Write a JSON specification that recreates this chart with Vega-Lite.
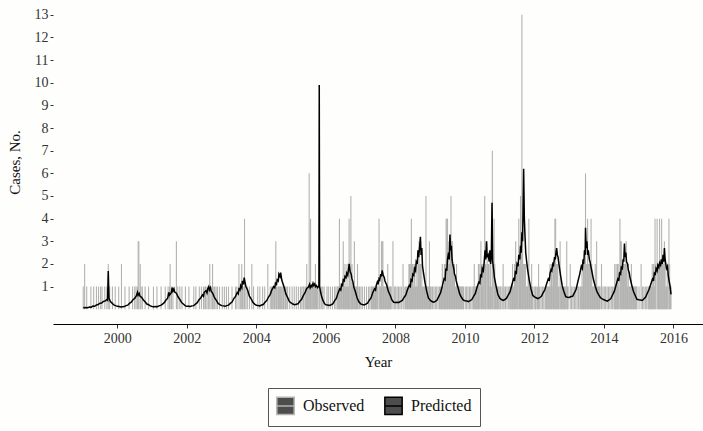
{
  "$schema": "https://vega.github.io/schema/vega-lite/v6.json",
  "width": 650,
  "height": 324,
  "autosize": {"type": "none"},
  "padding": {"left": 53, "top": 0, "right": 0, "bottom": 107},
  "background": "#fefefc",
  "config": {
    "view": {"stroke": null},
    "font": "Liberation Serif",
    "axis": {"grid": false, "labelFont": "Liberation Serif", "titleFont": "Liberation Serif", "titleFontWeight": "normal", "labelColor": "#333333", "titleColor": "#111111", "tickColor": "#333333"},
    "legend": {"labelFont": "Liberation Serif"}
  },
  "datasets": {
    "obs": [
      {"t":1999.02,"n":1},{"t":1999.06,"n":2},{"t":1999.12,"n":1},{"t":1999.24,"n":1},{"t":1999.32,"n":1},{"t":1999.40,"n":1},{"t":1999.46,"n":1},{"t":1999.52,"n":1},{"t":1999.56,"n":1},{"t":1999.64,"n":1},{"t":1999.70,"n":1},{"t":1999.74,"n":2},{"t":1999.78,"n":1},{"t":1999.86,"n":1},{"t":1999.94,"n":1},
      {"t":2000.04,"n":1},{"t":2000.12,"n":2},{"t":2000.22,"n":1},{"t":2000.34,"n":1},{"t":2000.44,"n":1},{"t":2000.50,"n":1},{"t":2000.54,"n":1},{"t":2000.58,"n":1},{"t":2000.60,"n":3},{"t":2000.62,"n":3},{"t":2000.66,"n":2},{"t":2000.68,"n":1},{"t":2000.72,"n":1},{"t":2000.80,"n":1},{"t":2000.90,"n":1},
      {"t":2001.04,"n":1},{"t":2001.14,"n":1},{"t":2001.26,"n":1},{"t":2001.38,"n":1},{"t":2001.46,"n":1},{"t":2001.50,"n":1},{"t":2001.52,"n":2},{"t":2001.56,"n":1},{"t":2001.60,"n":1},{"t":2001.70,"n":3},{"t":2001.74,"n":1},{"t":2001.80,"n":1},{"t":2001.86,"n":1},{"t":2001.96,"n":1},
      {"t":2002.06,"n":1},{"t":2002.20,"n":1},{"t":2002.26,"n":1},{"t":2002.36,"n":1},{"t":2002.42,"n":1},{"t":2002.48,"n":1},{"t":2002.52,"n":1},{"t":2002.54,"n":1},{"t":2002.58,"n":1},{"t":2002.62,"n":1},{"t":2002.66,"n":2},{"t":2002.70,"n":1},{"t":2002.74,"n":2},{"t":2002.76,"n":1},{"t":2002.80,"n":1},{"t":2002.84,"n":1},{"t":2002.88,"n":1},{"t":2002.94,"n":1},
      {"t":2003.02,"n":1},{"t":2003.08,"n":1},{"t":2003.14,"n":1},{"t":2003.20,"n":1},{"t":2003.30,"n":1},{"t":2003.40,"n":1},{"t":2003.44,"n":1},{"t":2003.50,"n":2},{"t":2003.54,"n":1},{"t":2003.58,"n":2},{"t":2003.60,"n":1},{"t":2003.64,"n":1},{"t":2003.66,"n":4},{"t":2003.70,"n":1},{"t":2003.74,"n":1},{"t":2003.80,"n":1},{"t":2003.87,"n":2},{"t":2003.92,"n":1},
      {"t":2004.04,"n":1},{"t":2004.10,"n":1},{"t":2004.18,"n":1},{"t":2004.24,"n":1},{"t":2004.33,"n":2},{"t":2004.40,"n":1},{"t":2004.44,"n":1},{"t":2004.46,"n":1},{"t":2004.50,"n":1},{"t":2004.52,"n":1},{"t":2004.56,"n":3},{"t":2004.58,"n":1},{"t":2004.60,"n":1},{"t":2004.64,"n":1},{"t":2004.66,"n":1},{"t":2004.68,"n":1},{"t":2004.70,"n":1},{"t":2004.72,"n":1},{"t":2004.76,"n":1},{"t":2004.78,"n":1},{"t":2004.80,"n":1},{"t":2004.84,"n":1},{"t":2004.86,"n":1},{"t":2004.90,"n":1},{"t":2004.96,"n":1},
      {"t":2005.03,"n":1},{"t":2005.09,"n":1},{"t":2005.15,"n":1},{"t":2005.21,"n":1},{"t":2005.27,"n":1},{"t":2005.31,"n":1},{"t":2005.35,"n":1},{"t":2005.37,"n":1},{"t":2005.41,"n":1},{"t":2005.43,"n":1},{"t":2005.45,"n":2},{"t":2005.47,"n":1},{"t":2005.49,"n":1},{"t":2005.51,"n":1},{"t":2005.52,"n":6},{"t":2005.54,"n":1},{"t":2005.56,"n":4},{"t":2005.58,"n":1},{"t":2005.61,"n":1},{"t":2005.63,"n":1},{"t":2005.65,"n":1},{"t":2005.67,"n":1},{"t":2005.70,"n":2},{"t":2005.73,"n":1},{"t":2005.75,"n":1},{"t":2005.77,"n":1},{"t":2005.81,"n":1},{"t":2005.83,"n":1},{"t":2005.87,"n":1},{"t":2005.91,"n":1},{"t":2005.95,"n":1},
      {"t":2006.03,"n":1},{"t":2006.07,"n":1},{"t":2006.13,"n":1},{"t":2006.19,"n":1},{"t":2006.25,"n":1},{"t":2006.29,"n":1},{"t":2006.33,"n":1},{"t":2006.35,"n":1},{"t":2006.37,"n":1},{"t":2006.39,"n":4},{"t":2006.41,"n":1},{"t":2006.43,"n":1},{"t":2006.45,"n":1},{"t":2006.47,"n":1},{"t":2006.50,"n":3},{"t":2006.51,"n":1},{"t":2006.53,"n":1},{"t":2006.55,"n":2},{"t":2006.57,"n":1},{"t":2006.59,"n":1},{"t":2006.61,"n":2},{"t":2006.63,"n":1},{"t":2006.65,"n":1},{"t":2006.67,"n":4},{"t":2006.69,"n":2},{"t":2006.72,"n":5},{"t":2006.73,"n":1},{"t":2006.75,"n":2},{"t":2006.77,"n":1},{"t":2006.79,"n":1},{"t":2006.82,"n":3},{"t":2006.84,"n":1},{"t":2006.86,"n":1},{"t":2006.88,"n":1},{"t":2006.91,"n":2},{"t":2006.93,"n":1},{"t":2006.97,"n":1},
      {"t":2007.01,"n":1},{"t":2007.05,"n":1},{"t":2007.11,"n":1},{"t":2007.17,"n":1},{"t":2007.23,"n":1},{"t":2007.27,"n":1},{"t":2007.31,"n":1},{"t":2007.33,"n":1},{"t":2007.35,"n":1},{"t":2007.37,"n":1},{"t":2007.39,"n":1},{"t":2007.41,"n":1},{"t":2007.43,"n":1},{"t":2007.45,"n":1},{"t":2007.47,"n":1},{"t":2007.49,"n":1},{"t":2007.53,"n":4},{"t":2007.55,"n":1},{"t":2007.57,"n":1},{"t":2007.60,"n":3},{"t":2007.62,"n":3},{"t":2007.64,"n":3},{"t":2007.66,"n":1},{"t":2007.68,"n":1},{"t":2007.70,"n":1},{"t":2007.72,"n":1},{"t":2007.74,"n":1},{"t":2007.76,"n":1},{"t":2007.78,"n":2},{"t":2007.80,"n":1},{"t":2007.82,"n":1},{"t":2007.84,"n":1},{"t":2007.86,"n":1},{"t":2007.88,"n":1},{"t":2007.93,"n":3},{"t":2007.97,"n":1},
      {"t":2008.01,"n":1},{"t":2008.05,"n":1},{"t":2008.09,"n":1},{"t":2008.13,"n":1},{"t":2008.17,"n":1},{"t":2008.22,"n":2},{"t":2008.25,"n":1},{"t":2008.29,"n":1},{"t":2008.31,"n":1},{"t":2008.33,"n":1},{"t":2008.35,"n":1},{"t":2008.37,"n":1},{"t":2008.39,"n":2},{"t":2008.41,"n":2},{"t":2008.43,"n":2},{"t":2008.45,"n":1},{"t":2008.46,"n":4},{"t":2008.48,"n":2},{"t":2008.50,"n":2},{"t":2008.52,"n":1},{"t":2008.54,"n":2},{"t":2008.56,"n":2},{"t":2008.58,"n":1},{"t":2008.60,"n":1},{"t":2008.62,"n":2},{"t":2008.64,"n":1},{"t":2008.66,"n":2},{"t":2008.68,"n":3},{"t":2008.70,"n":2},{"t":2008.72,"n":2},{"t":2008.74,"n":1},{"t":2008.76,"n":2},{"t":2008.78,"n":1},{"t":2008.80,"n":1},{"t":2008.82,"n":1},{"t":2008.84,"n":1},{"t":2008.86,"n":1},{"t":2008.88,"n":5},{"t":2008.90,"n":1},{"t":2008.92,"n":1},{"t":2008.94,"n":1},{"t":2008.96,"n":1},{"t":2008.98,"n":3},
      {"t":2009.01,"n":1},{"t":2009.03,"n":1},{"t":2009.07,"n":1},{"t":2009.11,"n":1},{"t":2009.15,"n":1},{"t":2009.19,"n":1},{"t":2009.23,"n":1},{"t":2009.27,"n":1},{"t":2009.29,"n":1},{"t":2009.31,"n":1},{"t":2009.33,"n":1},{"t":2009.35,"n":2},{"t":2009.37,"n":1},{"t":2009.39,"n":1},{"t":2009.41,"n":2},{"t":2009.43,"n":2},{"t":2009.45,"n":2},{"t":2009.46,"n":4},{"t":2009.48,"n":4},{"t":2009.50,"n":4},{"t":2009.52,"n":2},{"t":2009.54,"n":3},{"t":2009.56,"n":2},{"t":2009.58,"n":3},{"t":2009.60,"n":5},{"t":2009.62,"n":3},{"t":2009.64,"n":3},{"t":2009.66,"n":2},{"t":2009.68,"n":2},{"t":2009.70,"n":2},{"t":2009.72,"n":1},{"t":2009.74,"n":1},{"t":2009.76,"n":2},{"t":2009.78,"n":1},{"t":2009.80,"n":1},{"t":2009.82,"n":1},{"t":2009.84,"n":1},{"t":2009.86,"n":1},{"t":2009.88,"n":1},{"t":2009.90,"n":1},{"t":2009.92,"n":1},{"t":2009.94,"n":1},{"t":2009.96,"n":1},
      {"t":2010.01,"n":1},{"t":2010.05,"n":1},{"t":2010.09,"n":1},{"t":2010.13,"n":1},{"t":2010.17,"n":1},{"t":2010.21,"n":1},{"t":2010.25,"n":1},{"t":2010.27,"n":2},{"t":2010.29,"n":1},{"t":2010.31,"n":1},{"t":2010.33,"n":1},{"t":2010.35,"n":1},{"t":2010.37,"n":1},{"t":2010.39,"n":2},{"t":2010.41,"n":1},{"t":2010.43,"n":2},{"t":2010.46,"n":3},{"t":2010.48,"n":2},{"t":2010.50,"n":2},{"t":2010.52,"n":1},{"t":2010.54,"n":2},{"t":2010.57,"n":5},{"t":2010.59,"n":2},{"t":2010.61,"n":2},{"t":2010.64,"n":3},{"t":2010.66,"n":2},{"t":2010.68,"n":2},{"t":2010.70,"n":1},{"t":2010.72,"n":2},{"t":2010.74,"n":2},{"t":2010.76,"n":1},{"t":2010.79,"n":7},{"t":2010.81,"n":2},{"t":2010.84,"n":4},{"t":2010.86,"n":2},{"t":2010.88,"n":1},{"t":2010.90,"n":1},{"t":2010.92,"n":1},{"t":2010.94,"n":1},{"t":2010.96,"n":1},{"t":2010.98,"n":1},
      {"t":2011.01,"n":1},{"t":2011.03,"n":1},{"t":2011.07,"n":1},{"t":2011.10,"n":2},{"t":2011.13,"n":1},{"t":2011.17,"n":1},{"t":2011.21,"n":1},{"t":2011.25,"n":1},{"t":2011.29,"n":1},{"t":2011.31,"n":1},{"t":2011.33,"n":1},{"t":2011.35,"n":1},{"t":2011.37,"n":2},{"t":2011.39,"n":1},{"t":2011.41,"n":1},{"t":2011.43,"n":2},{"t":2011.46,"n":3},{"t":2011.48,"n":2},{"t":2011.50,"n":2},{"t":2011.52,"n":2},{"t":2011.55,"n":4},{"t":2011.57,"n":2},{"t":2011.60,"n":5},{"t":2011.62,"n":3},{"t":2011.64,"n":13},{"t":2011.66,"n":3},{"t":2011.68,"n":2},{"t":2011.70,"n":2},{"t":2011.72,"n":2},{"t":2011.74,"n":2},{"t":2011.76,"n":1},{"t":2011.78,"n":1},{"t":2011.80,"n":1},{"t":2011.82,"n":2},{"t":2011.84,"n":4},{"t":2011.86,"n":1},{"t":2011.88,"n":1},{"t":2011.90,"n":1},{"t":2011.92,"n":2},{"t":2011.94,"n":1},{"t":2011.96,"n":1},
      {"t":2012.01,"n":1},{"t":2012.03,"n":1},{"t":2012.05,"n":1},{"t":2012.09,"n":1},{"t":2012.12,"n":2},{"t":2012.15,"n":1},{"t":2012.19,"n":1},{"t":2012.23,"n":1},{"t":2012.27,"n":1},{"t":2012.31,"n":1},{"t":2012.33,"n":1},{"t":2012.35,"n":1},{"t":2012.37,"n":1},{"t":2012.39,"n":1},{"t":2012.41,"n":1},{"t":2012.43,"n":1},{"t":2012.45,"n":2},{"t":2012.47,"n":1},{"t":2012.49,"n":2},{"t":2012.51,"n":1},{"t":2012.53,"n":2},{"t":2012.55,"n":2},{"t":2012.57,"n":2},{"t":2012.59,"n":4},{"t":2012.61,"n":4},{"t":2012.63,"n":2},{"t":2012.65,"n":2},{"t":2012.67,"n":2},{"t":2012.69,"n":1},{"t":2012.71,"n":1},{"t":2012.74,"n":3},{"t":2012.76,"n":1},{"t":2012.78,"n":1},{"t":2012.80,"n":1},{"t":2012.82,"n":1},{"t":2012.84,"n":1},{"t":2012.86,"n":1},{"t":2012.88,"n":1},{"t":2012.90,"n":1},{"t":2012.93,"n":3},{"t":2012.95,"n":1},{"t":2012.97,"n":1},
      {"t":2013.03,"n":2},{"t":2013.07,"n":1},{"t":2013.11,"n":1},{"t":2013.15,"n":1},{"t":2013.19,"n":1},{"t":2013.23,"n":1},{"t":2013.27,"n":1},{"t":2013.31,"n":1},{"t":2013.33,"n":1},{"t":2013.35,"n":1},{"t":2013.37,"n":2},{"t":2013.39,"n":1},{"t":2013.41,"n":2},{"t":2013.43,"n":2},{"t":2013.45,"n":2},{"t":2013.47,"n":6},{"t":2013.49,"n":2},{"t":2013.51,"n":2},{"t":2013.53,"n":4},{"t":2013.55,"n":2},{"t":2013.57,"n":2},{"t":2013.59,"n":2},{"t":2013.61,"n":2},{"t":2013.63,"n":4},{"t":2013.65,"n":2},{"t":2013.67,"n":1},{"t":2013.69,"n":1},{"t":2013.71,"n":1},{"t":2013.73,"n":1},{"t":2013.75,"n":2},{"t":2013.77,"n":1},{"t":2013.79,"n":3},{"t":2013.81,"n":1},{"t":2013.83,"n":1},{"t":2013.85,"n":1},{"t":2013.87,"n":1},{"t":2013.89,"n":1},{"t":2013.93,"n":2},{"t":2013.97,"n":1},
      {"t":2014.01,"n":1},{"t":2014.05,"n":1},{"t":2014.09,"n":1},{"t":2014.13,"n":1},{"t":2014.17,"n":1},{"t":2014.21,"n":1},{"t":2014.25,"n":1},{"t":2014.29,"n":1},{"t":2014.31,"n":2},{"t":2014.33,"n":1},{"t":2014.35,"n":2},{"t":2014.37,"n":1},{"t":2014.39,"n":2},{"t":2014.41,"n":2},{"t":2014.43,"n":1},{"t":2014.46,"n":4},{"t":2014.48,"n":3},{"t":2014.50,"n":3},{"t":2014.52,"n":2},{"t":2014.54,"n":2},{"t":2014.56,"n":2},{"t":2014.58,"n":2},{"t":2014.60,"n":2},{"t":2014.62,"n":2},{"t":2014.64,"n":3},{"t":2014.66,"n":2},{"t":2014.68,"n":1},{"t":2014.70,"n":2},{"t":2014.72,"n":1},{"t":2014.74,"n":1},{"t":2014.76,"n":1},{"t":2014.79,"n":2},{"t":2014.81,"n":1},{"t":2014.83,"n":1},{"t":2014.85,"n":1},{"t":2014.87,"n":1},{"t":2014.89,"n":1},{"t":2014.91,"n":1},{"t":2014.93,"n":1},{"t":2014.95,"n":1},
      {"t":2015.01,"n":1},{"t":2015.07,"n":2},{"t":2015.11,"n":1},{"t":2015.15,"n":1},{"t":2015.19,"n":1},{"t":2015.23,"n":1},{"t":2015.27,"n":1},{"t":2015.29,"n":1},{"t":2015.31,"n":1},{"t":2015.33,"n":1},{"t":2015.35,"n":1},{"t":2015.37,"n":1},{"t":2015.39,"n":2},{"t":2015.41,"n":1},{"t":2015.43,"n":2},{"t":2015.45,"n":1},{"t":2015.47,"n":4},{"t":2015.49,"n":2},{"t":2015.53,"n":4},{"t":2015.55,"n":2},{"t":2015.57,"n":2},{"t":2015.60,"n":4},{"t":2015.62,"n":2},{"t":2015.64,"n":2},{"t":2015.66,"n":4},{"t":2015.68,"n":2},{"t":2015.70,"n":2},{"t":2015.72,"n":2},{"t":2015.74,"n":3},{"t":2015.76,"n":2},{"t":2015.78,"n":1},{"t":2015.80,"n":1},{"t":2015.82,"n":2},{"t":2015.84,"n":1},{"t":2015.87,"n":4},{"t":2015.89,"n":2},{"t":2015.91,"n":1},{"t":2015.93,"n":1}
    ],
    "pred": [
      {"t":1999.02,"p":0.08},{"t":1999.05,"p":0.07},{"t":1999.10,"p":0.08},{"t":1999.15,"p":0.07},{"t":1999.20,"p":0.10},{"t":1999.25,"p":0.09},{"t":1999.30,"p":0.14},{"t":1999.35,"p":0.13},{"t":1999.40,"p":0.19},{"t":1999.45,"p":0.21},{"t":1999.50,"p":0.27},{"t":1999.55,"p":0.28},{"t":1999.60,"p":0.35},{"t":1999.65,"p":0.36},{"t":1999.70,"p":0.43},{"t":1999.72,"p":0.40},{"t":1999.74,"p":1.69},{"t":1999.76,"p":0.50},{"t":1999.80,"p":0.34},{"t":1999.85,"p":0.27},{"t":1999.90,"p":0.19},{"t":1999.95,"p":0.16},
      {"t":2000.00,"p":0.13},{"t":2000.05,"p":0.12},{"t":2000.10,"p":0.10},{"t":2000.15,"p":0.11},{"t":2000.20,"p":0.12},{"t":2000.25,"p":0.16},{"t":2000.30,"p":0.18},{"t":2000.35,"p":0.26},{"t":2000.40,"p":0.31},{"t":2000.45,"p":0.42},{"t":2000.50,"p":0.48},{"t":2000.55,"p":0.60},{"t":2000.58,"p":0.75},{"t":2000.60,"p":0.62},{"t":2000.63,"p":0.70},{"t":2000.65,"p":0.58},{"t":2000.70,"p":0.53},{"t":2000.75,"p":0.41},{"t":2000.80,"p":0.33},{"t":2000.85,"p":0.23},{"t":2000.90,"p":0.20},{"t":2000.95,"p":0.15},
      {"t":2001.00,"p":0.12},{"t":2001.05,"p":0.11},{"t":2001.10,"p":0.12},{"t":2001.15,"p":0.11},{"t":2001.20,"p":0.15},{"t":2001.25,"p":0.17},{"t":2001.30,"p":0.23},{"t":2001.35,"p":0.29},{"t":2001.40,"p":0.41},{"t":2001.45,"p":0.49},{"t":2001.48,"p":0.75},{"t":2001.50,"p":0.62},{"t":2001.55,"p":0.72},{"t":2001.58,"p":0.95},{"t":2001.60,"p":0.80},{"t":2001.63,"p":0.90},{"t":2001.65,"p":0.76},{"t":2001.70,"p":0.71},{"t":2001.75,"p":0.54},{"t":2001.80,"p":0.43},{"t":2001.85,"p":0.30},{"t":2001.90,"p":0.23},{"t":2001.95,"p":0.16},
      {"t":2002.00,"p":0.13},{"t":2002.05,"p":0.13},{"t":2002.10,"p":0.12},{"t":2002.15,"p":0.15},{"t":2002.20,"p":0.16},{"t":2002.25,"p":0.23},{"t":2002.30,"p":0.29},{"t":2002.35,"p":0.42},{"t":2002.40,"p":0.50},{"t":2002.45,"p":0.64},{"t":2002.48,"p":0.58},{"t":2002.50,"p":0.75},{"t":2002.55,"p":0.82},{"t":2002.58,"p":0.72},{"t":2002.60,"p":0.90},{"t":2002.63,"p":1.00},{"t":2002.65,"p":0.85},{"t":2002.68,"p":0.95},{"t":2002.70,"p":0.80},{"t":2002.75,"p":0.69},{"t":2002.80,"p":0.50},{"t":2002.85,"p":0.39},{"t":2002.90,"p":0.26},{"t":2002.95,"p":0.21},
      {"t":2003.00,"p":0.16},{"t":2003.05,"p":0.15},{"t":2003.10,"p":0.13},{"t":2003.15,"p":0.16},{"t":2003.20,"p":0.18},{"t":2003.25,"p":0.26},{"t":2003.30,"p":0.32},{"t":2003.35,"p":0.47},{"t":2003.40,"p":0.56},{"t":2003.45,"p":0.74},{"t":2003.48,"p":0.68},{"t":2003.50,"p":0.90},{"t":2003.53,"p":0.85},{"t":2003.55,"p":1.05},{"t":2003.58,"p":0.95},{"t":2003.60,"p":1.25},{"t":2003.63,"p":1.10},{"t":2003.65,"p":1.40},{"t":2003.68,"p":1.15},{"t":2003.70,"p":1.00},{"t":2003.75,"p":0.84},{"t":2003.80,"p":0.58},{"t":2003.85,"p":0.46},{"t":2003.90,"p":0.31},{"t":2003.95,"p":0.23},
      {"t":2004.00,"p":0.18},{"t":2004.05,"p":0.17},{"t":2004.10,"p":0.15},{"t":2004.15,"p":0.19},{"t":2004.20,"p":0.21},{"t":2004.25,"p":0.31},{"t":2004.30,"p":0.38},{"t":2004.35,"p":0.54},{"t":2004.40,"p":0.66},{"t":2004.45,"p":0.87},{"t":2004.50,"p":1.00},{"t":2004.53,"p":0.95},{"t":2004.55,"p":1.15},{"t":2004.58,"p":1.10},{"t":2004.60,"p":1.30},{"t":2004.63,"p":1.25},{"t":2004.65,"p":1.55},{"t":2004.68,"p":1.45},{"t":2004.70,"p":1.62},{"t":2004.73,"p":1.30},{"t":2004.75,"p":1.20},{"t":2004.80,"p":0.97},{"t":2004.85,"p":0.68},{"t":2004.90,"p":0.52},{"t":2004.95,"p":0.34},
      {"t":2005.00,"p":0.28},{"t":2005.05,"p":0.23},{"t":2005.10,"p":0.20},{"t":2005.15,"p":0.22},{"t":2005.20,"p":0.24},{"t":2005.25,"p":0.35},{"t":2005.30,"p":0.43},{"t":2005.35,"p":0.60},{"t":2005.40,"p":0.73},{"t":2005.45,"p":0.92},{"t":2005.50,"p":0.98},{"t":2005.53,"p":1.10},{"t":2005.55,"p":0.95},{"t":2005.58,"p":1.05},{"t":2005.60,"p":1.00},{"t":2005.63,"p":1.15},{"t":2005.65,"p":1.05},{"t":2005.68,"p":1.12},{"t":2005.70,"p":1.00},{"t":2005.73,"p":1.05},{"t":2005.76,"p":0.95},{"t":2005.79,"p":1.00},{"t":2005.80,"p":1.05},{"t":2005.81,"p":9.90},{"t":2005.82,"p":1.00},{"t":2005.85,"p":0.75},{"t":2005.88,"p":0.55},{"t":2005.92,"p":0.38},{"t":2005.96,"p":0.25},
      {"t":2006.00,"p":0.20},{"t":2006.05,"p":0.19},{"t":2006.10,"p":0.17},{"t":2006.15,"p":0.20},{"t":2006.20,"p":0.24},{"t":2006.25,"p":0.37},{"t":2006.30,"p":0.48},{"t":2006.35,"p":0.72},{"t":2006.40,"p":0.90},{"t":2006.43,"p":0.85},{"t":2006.45,"p":1.10},{"t":2006.48,"p":1.05},{"t":2006.50,"p":1.30},{"t":2006.53,"p":1.25},{"t":2006.55,"p":1.45},{"t":2006.58,"p":1.40},{"t":2006.60,"p":1.60},{"t":2006.63,"p":1.50},{"t":2006.65,"p":1.75},{"t":2006.67,"p":2.00},{"t":2006.70,"p":1.65},{"t":2006.73,"p":1.55},{"t":2006.75,"p":1.35},{"t":2006.78,"p":1.20},{"t":2006.80,"p":1.00},{"t":2006.85,"p":0.77},{"t":2006.90,"p":0.50},{"t":2006.95,"p":0.33},
      {"t":2007.00,"p":0.24},{"t":2007.05,"p":0.21},{"t":2007.10,"p":0.19},{"t":2007.15,"p":0.23},{"t":2007.20,"p":0.27},{"t":2007.25,"p":0.40},{"t":2007.30,"p":0.50},{"t":2007.35,"p":0.74},{"t":2007.40,"p":0.90},{"t":2007.43,"p":0.85},{"t":2007.45,"p":1.05},{"t":2007.48,"p":1.20},{"t":2007.50,"p":1.10},{"t":2007.53,"p":1.35},{"t":2007.55,"p":1.30},{"t":2007.58,"p":1.55},{"t":2007.60,"p":1.45},{"t":2007.62,"p":1.72},{"t":2007.65,"p":1.50},{"t":2007.68,"p":1.40},{"t":2007.70,"p":1.25},{"t":2007.75,"p":1.07},{"t":2007.80,"p":0.78},{"t":2007.85,"p":0.62},{"t":2007.90,"p":0.41},{"t":2007.95,"p":0.31},
      {"t":2008.00,"p":0.30},{"t":2008.05,"p":0.31},{"t":2008.10,"p":0.30},{"t":2008.15,"p":0.35},{"t":2008.20,"p":0.39},{"t":2008.25,"p":0.52},{"t":2008.30,"p":0.63},{"t":2008.35,"p":0.87},{"t":2008.40,"p":1.05},{"t":2008.43,"p":1.00},{"t":2008.45,"p":1.30},{"t":2008.48,"p":1.25},{"t":2008.50,"p":1.55},{"t":2008.53,"p":1.50},{"t":2008.55,"p":1.80},{"t":2008.58,"p":1.70},{"t":2008.60,"p":2.10},{"t":2008.63,"p":2.00},{"t":2008.65,"p":2.60},{"t":2008.67,"p":2.30},{"t":2008.70,"p":2.80},{"t":2008.72,"p":3.20},{"t":2008.74,"p":2.40},{"t":2008.76,"p":2.70},{"t":2008.78,"p":1.90},{"t":2008.80,"p":1.70},{"t":2008.83,"p":1.40},{"t":2008.85,"p":1.20},{"t":2008.90,"p":0.80},{"t":2008.95,"p":0.50},
      {"t":2009.00,"p":0.40},{"t":2009.05,"p":0.34},{"t":2009.10,"p":0.31},{"t":2009.15,"p":0.35},{"t":2009.20,"p":0.41},{"t":2009.25,"p":0.57},{"t":2009.30,"p":0.73},{"t":2009.35,"p":1.02},{"t":2009.40,"p":1.35},{"t":2009.43,"p":1.30},{"t":2009.45,"p":1.80},{"t":2009.48,"p":1.70},{"t":2009.50,"p":2.20},{"t":2009.53,"p":2.50},{"t":2009.55,"p":2.20},{"t":2009.57,"p":3.30},{"t":2009.59,"p":2.60},{"t":2009.61,"p":2.80},{"t":2009.63,"p":2.20},{"t":2009.65,"p":2.00},{"t":2009.68,"p":1.80},{"t":2009.70,"p":1.55},{"t":2009.73,"p":1.45},{"t":2009.75,"p":1.25},{"t":2009.80,"p":0.97},{"t":2009.85,"p":0.68},{"t":2009.90,"p":0.53},{"t":2009.95,"p":0.41},
      {"t":2010.00,"p":0.38},{"t":2010.05,"p":0.37},{"t":2010.10,"p":0.34},{"t":2010.15,"p":0.38},{"t":2010.20,"p":0.43},{"t":2010.25,"p":0.57},{"t":2010.30,"p":0.70},{"t":2010.35,"p":0.97},{"t":2010.40,"p":1.20},{"t":2010.43,"p":1.15},{"t":2010.45,"p":1.50},{"t":2010.48,"p":1.45},{"t":2010.50,"p":1.80},{"t":2010.53,"p":1.70},{"t":2010.55,"p":2.00},{"t":2010.58,"p":2.60},{"t":2010.60,"p":2.20},{"t":2010.62,"p":3.00},{"t":2010.64,"p":2.30},{"t":2010.67,"p":2.40},{"t":2010.70,"p":2.10},{"t":2010.72,"p":2.60},{"t":2010.74,"p":2.00},{"t":2010.76,"p":2.30},{"t":2010.78,"p":4.70},{"t":2010.80,"p":2.10},{"t":2010.83,"p":1.70},{"t":2010.85,"p":1.40},{"t":2010.90,"p":1.00},{"t":2010.95,"p":0.65},
      {"t":2011.00,"p":0.50},{"t":2011.05,"p":0.43},{"t":2011.10,"p":0.39},{"t":2011.15,"p":0.43},{"t":2011.20,"p":0.49},{"t":2011.25,"p":0.64},{"t":2011.30,"p":0.78},{"t":2011.35,"p":1.07},{"t":2011.40,"p":1.35},{"t":2011.43,"p":1.30},{"t":2011.45,"p":1.65},{"t":2011.48,"p":1.60},{"t":2011.50,"p":2.00},{"t":2011.53,"p":1.90},{"t":2011.55,"p":2.40},{"t":2011.58,"p":2.20},{"t":2011.60,"p":2.80},{"t":2011.62,"p":2.50},{"t":2011.64,"p":3.40},{"t":2011.66,"p":3.00},{"t":2011.69,"p":6.20},{"t":2011.71,"p":4.00},{"t":2011.73,"p":3.20},{"t":2011.75,"p":2.50},{"t":2011.77,"p":2.20},{"t":2011.80,"p":1.80},{"t":2011.85,"p":1.30},{"t":2011.90,"p":0.90},{"t":2011.95,"p":0.62},
      {"t":2012.00,"p":0.55},{"t":2012.05,"p":0.51},{"t":2012.10,"p":0.47},{"t":2012.15,"p":0.51},{"t":2012.20,"p":0.57},{"t":2012.25,"p":0.72},{"t":2012.30,"p":0.86},{"t":2012.35,"p":1.12},{"t":2012.40,"p":1.35},{"t":2012.43,"p":1.30},{"t":2012.45,"p":1.60},{"t":2012.48,"p":1.75},{"t":2012.50,"p":1.70},{"t":2012.53,"p":2.00},{"t":2012.55,"p":1.95},{"t":2012.58,"p":2.30},{"t":2012.60,"p":2.20},{"t":2012.62,"p":2.50},{"t":2012.64,"p":2.70},{"t":2012.66,"p":2.40},{"t":2012.68,"p":2.30},{"t":2012.70,"p":2.05},{"t":2012.75,"p":1.52},{"t":2012.80,"p":1.03},{"t":2012.85,"p":0.77},{"t":2012.90,"p":0.56},{"t":2012.95,"p":0.53},
      {"t":2013.00,"p":0.52},{"t":2013.05,"p":0.56},{"t":2013.10,"p":0.57},{"t":2013.15,"p":0.72},{"t":2013.20,"p":0.88},{"t":2013.25,"p":1.22},{"t":2013.30,"p":1.53},{"t":2013.35,"p":1.90},{"t":2013.38,"p":1.80},{"t":2013.40,"p":2.20},{"t":2013.42,"p":2.00},{"t":2013.44,"p":2.60},{"t":2013.46,"p":2.40},{"t":2013.47,"p":3.60},{"t":2013.49,"p":2.70},{"t":2013.51,"p":3.00},{"t":2013.53,"p":2.40},{"t":2013.55,"p":2.60},{"t":2013.58,"p":2.20},{"t":2013.60,"p":2.10},{"t":2013.63,"p":1.85},{"t":2013.65,"p":1.70},{"t":2013.68,"p":1.45},{"t":2013.70,"p":1.30},{"t":2013.75,"p":1.02},{"t":2013.80,"p":0.78},{"t":2013.85,"p":0.64},{"t":2013.90,"p":0.51},{"t":2013.95,"p":0.46},
      {"t":2014.00,"p":0.42},{"t":2014.05,"p":0.39},{"t":2014.10,"p":0.36},{"t":2014.15,"p":0.41},{"t":2014.20,"p":0.47},{"t":2014.25,"p":0.64},{"t":2014.30,"p":0.80},{"t":2014.35,"p":1.07},{"t":2014.40,"p":1.35},{"t":2014.43,"p":1.30},{"t":2014.45,"p":1.60},{"t":2014.48,"p":1.55},{"t":2014.50,"p":1.85},{"t":2014.53,"p":1.80},{"t":2014.55,"p":2.20},{"t":2014.57,"p":2.10},{"t":2014.59,"p":2.90},{"t":2014.61,"p":2.30},{"t":2014.63,"p":2.50},{"t":2014.65,"p":2.10},{"t":2014.68,"p":2.00},{"t":2014.70,"p":1.75},{"t":2014.73,"p":1.60},{"t":2014.75,"p":1.40},{"t":2014.80,"p":1.07},{"t":2014.85,"p":0.78},{"t":2014.90,"p":0.61},{"t":2014.95,"p":0.44},
      {"t":2015.00,"p":0.42},{"t":2015.05,"p":0.41},{"t":2015.10,"p":0.39},{"t":2015.15,"p":0.46},{"t":2015.20,"p":0.54},{"t":2015.25,"p":0.72},{"t":2015.30,"p":0.88},{"t":2015.35,"p":1.12},{"t":2015.40,"p":1.35},{"t":2015.43,"p":1.30},{"t":2015.45,"p":1.60},{"t":2015.48,"p":1.55},{"t":2015.50,"p":1.80},{"t":2015.53,"p":1.70},{"t":2015.55,"p":1.95},{"t":2015.58,"p":1.85},{"t":2015.60,"p":2.05},{"t":2015.63,"p":1.95},{"t":2015.65,"p":2.20},{"t":2015.68,"p":2.00},{"t":2015.70,"p":2.40},{"t":2015.72,"p":2.10},{"t":2015.74,"p":2.70},{"t":2015.76,"p":2.20},{"t":2015.78,"p":2.00},{"t":2015.80,"p":1.80},{"t":2015.83,"p":1.90},{"t":2015.85,"p":1.50},{"t":2015.88,"p":1.20},{"t":2015.90,"p":1.05},{"t":2015.93,"p":0.66}
    ]
  },
  "layer": [
    {
      "data": {"name": "obs"},
      "mark": {"type": "rule", "strokeWidth": 1.1},
      "encoding": {
        "x": {"field": "t", "type": "quantitative", "scale": {"domain": [1998.15, 2016.85], "nice": false, "zero": false},
          "axis": {"values": [2000,2002,2004,2006,2008,2010,2012,2014,2016], "tickCount": 20, "format": "d", "title": "Year", "labelFontSize": 14, "titleFontSize": 15, "tickSize": 4, "labelPadding": 3, "domainColor": "#000000", "titlePadding": 9}},
        "y": {"field": "n", "type": "quantitative", "scale": {"domain": [-0.65, 13.65], "nice": false, "zero": false},
          "axis": {"values": [1,2,3,4,5,6,7,8,9,10,11,12,13], "tickCount": 20, "labelOverlap": false, "title": "Cases, No.", "domain": false, "labelFontSize": 14, "titleFontSize": 15, "tickSize": 3, "labelPadding": 2, "titlePadding": 12}},
        "y2": {"datum": 0},
        "color": {"datum": "Observed", "type": "nominal",
          "scale": {"domain": ["Observed", "Predicted"], "range": ["#b3b3b1", "#000000"]},
          "legend": {"orient": "none", "legendX": 215, "legendY": 388, "direction": "horizontal", "title": null, "labelFontSize": 16, "labelColor": "#111111",
            "symbolType": "M-1,-1H1V1H-1ZM-1,0H1", "symbolSize": 300, "symbolFillColor": "#4d4d4d", "symbolStrokeWidth": 1.5,
            "strokeColor": "#555555", "padding": 8, "columnPadding": 16, "labelOffset": 8}}
      }
    },
    {
      "data": {"name": "pred"},
      "mark": {"type": "line", "strokeWidth": 1.5},
      "encoding": {
        "x": {"field": "t", "type": "quantitative"},
        "y": {"field": "p", "type": "quantitative"},
        "color": {"datum": "Predicted", "type": "nominal"}
      }
    }
  ]
}
